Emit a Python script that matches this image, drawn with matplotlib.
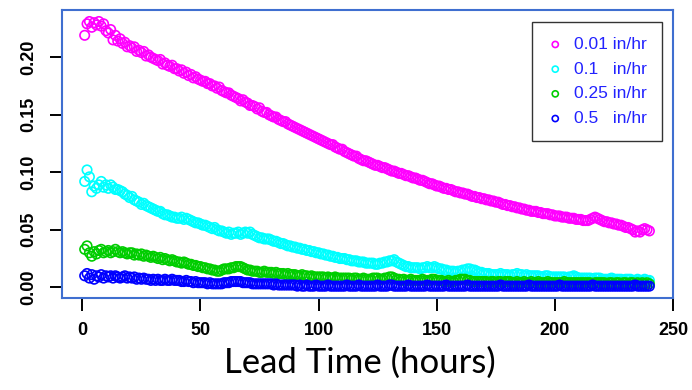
import numpy as np
import matplotlib
matplotlib.use("Agg")
import matplotlib.pyplot as plt

# lead time in hours, one point per hour
hours = np.arange(1, 241)

# exceedance fraction for each rain-rate threshold
rate_001 = [
    0.219, 0.229, 0.231, 0.226, 0.230, 0.228, 0.231, 0.227, 0.229, 0.223,
    0.221, 0.224, 0.215, 0.219, 0.214, 0.216, 0.212, 0.213, 0.209, 0.210,
    0.208, 0.209, 0.205, 0.206, 0.204, 0.205, 0.201, 0.202, 0.200, 0.199,
    0.198, 0.197, 0.198, 0.194, 0.195, 0.193, 0.192, 0.193, 0.190, 0.190,
    0.188, 0.189, 0.186, 0.187, 0.184, 0.185, 0.182, 0.183, 0.181, 0.180,
    0.179, 0.179, 0.177, 0.177, 0.175, 0.175, 0.173, 0.174, 0.171, 0.170,
    0.169, 0.169, 0.167, 0.166, 0.165, 0.164, 0.162, 0.163, 0.161, 0.160,
    0.158, 0.158, 0.157, 0.155, 0.156, 0.153, 0.152, 0.152, 0.150, 0.149,
    0.148, 0.148, 0.146, 0.145, 0.144, 0.144, 0.142, 0.141, 0.140, 0.139,
    0.138, 0.137, 0.136, 0.135, 0.134, 0.133, 0.132, 0.131, 0.130, 0.129,
    0.128, 0.127, 0.126, 0.125, 0.124, 0.124, 0.122, 0.121, 0.120, 0.120,
    0.118, 0.117, 0.116, 0.115, 0.114, 0.114, 0.112, 0.111, 0.110, 0.110,
    0.109, 0.108, 0.107, 0.106, 0.106, 0.105, 0.104, 0.104, 0.103, 0.102,
    0.101, 0.101, 0.100, 0.099, 0.099, 0.098, 0.097, 0.097, 0.096, 0.095,
    0.095, 0.094, 0.093, 0.093, 0.092, 0.091, 0.090, 0.090, 0.089, 0.088,
    0.088, 0.087, 0.086, 0.086, 0.085, 0.085, 0.084, 0.083, 0.083, 0.082,
    0.082, 0.081, 0.081, 0.080, 0.079, 0.079, 0.078, 0.078, 0.077, 0.077,
    0.076, 0.076, 0.075, 0.075, 0.074, 0.074, 0.073, 0.072, 0.072, 0.071,
    0.071, 0.070, 0.070, 0.069, 0.069, 0.068, 0.068, 0.067, 0.067, 0.066,
    0.066, 0.066, 0.065, 0.065, 0.064, 0.064, 0.064, 0.063, 0.063, 0.062,
    0.062, 0.062, 0.061, 0.061, 0.061, 0.060, 0.060, 0.060, 0.059, 0.059,
    0.059, 0.058, 0.058, 0.058, 0.059, 0.060, 0.061, 0.060, 0.059, 0.058,
    0.057, 0.057, 0.056, 0.056, 0.055, 0.055, 0.054, 0.054, 0.053, 0.052,
    0.052, 0.051, 0.050, 0.048, 0.049, 0.048, 0.050, 0.051, 0.050, 0.049,
]
rate_01 = [
    0.092, 0.102, 0.096, 0.083, 0.088, 0.086, 0.089, 0.092, 0.087, 0.089,
    0.086, 0.089, 0.087, 0.085, 0.085, 0.084, 0.083, 0.081, 0.080, 0.078,
    0.079, 0.076, 0.075, 0.074, 0.072, 0.073, 0.071, 0.070, 0.069, 0.068,
    0.067, 0.066, 0.066, 0.064, 0.063, 0.063, 0.062, 0.061, 0.061, 0.060,
    0.060, 0.061, 0.059, 0.060, 0.059, 0.058, 0.057, 0.056, 0.056, 0.055,
    0.054, 0.054, 0.053, 0.052, 0.051, 0.052, 0.050, 0.049, 0.049, 0.048,
    0.047, 0.048, 0.046, 0.047, 0.047, 0.048, 0.046, 0.047, 0.048, 0.047,
    0.048, 0.046, 0.045, 0.044, 0.043, 0.043, 0.042, 0.042, 0.042, 0.041,
    0.040, 0.040, 0.039, 0.038, 0.038, 0.037, 0.036, 0.036, 0.035, 0.035,
    0.034, 0.034, 0.033, 0.033, 0.032, 0.032, 0.031, 0.031, 0.030, 0.030,
    0.029, 0.029, 0.028, 0.028, 0.027, 0.027, 0.026, 0.026, 0.025, 0.025,
    0.025, 0.024, 0.024, 0.023, 0.023, 0.023, 0.022, 0.022, 0.022, 0.021,
    0.021, 0.021, 0.021, 0.020, 0.020, 0.021, 0.021, 0.022, 0.022, 0.023,
    0.023, 0.024, 0.022, 0.021, 0.020, 0.019, 0.018, 0.018, 0.017, 0.017,
    0.017, 0.017, 0.016, 0.017, 0.017, 0.018, 0.017, 0.017, 0.018, 0.017,
    0.016, 0.016, 0.015, 0.015, 0.014, 0.014, 0.014, 0.013, 0.014, 0.014,
    0.015, 0.015, 0.016, 0.016, 0.015, 0.015, 0.014, 0.013, 0.013, 0.012,
    0.012, 0.012, 0.011, 0.011, 0.011, 0.011, 0.012, 0.011, 0.011, 0.011,
    0.010, 0.011, 0.011, 0.012, 0.011, 0.011, 0.010, 0.011, 0.010, 0.010,
    0.010, 0.010, 0.010, 0.009, 0.009, 0.010, 0.010, 0.009, 0.009, 0.009,
    0.009, 0.009, 0.009, 0.009, 0.008, 0.009, 0.009, 0.010, 0.009, 0.008,
    0.008, 0.008, 0.008, 0.008, 0.008, 0.007, 0.008, 0.008, 0.008, 0.007,
    0.007, 0.007, 0.007, 0.008, 0.007, 0.007, 0.007, 0.007, 0.006, 0.007,
    0.007, 0.007, 0.006, 0.006, 0.007, 0.006, 0.006, 0.007, 0.006, 0.006,
]
rate_025 = [
    0.033, 0.036, 0.030, 0.027, 0.031, 0.029, 0.032, 0.033, 0.030, 0.031,
    0.032, 0.030, 0.031, 0.033, 0.031, 0.030, 0.031, 0.030, 0.029, 0.030,
    0.030, 0.028, 0.029, 0.028, 0.029, 0.027, 0.028, 0.027, 0.026, 0.027,
    0.026, 0.025, 0.026, 0.024, 0.025, 0.024, 0.023, 0.024, 0.023, 0.022,
    0.022, 0.021, 0.022, 0.021, 0.020, 0.020, 0.019, 0.019, 0.018, 0.018,
    0.017, 0.017, 0.016, 0.016, 0.015, 0.015, 0.014, 0.014, 0.015, 0.016,
    0.016, 0.016, 0.017, 0.017, 0.018, 0.018, 0.018, 0.017, 0.016, 0.015,
    0.015, 0.014, 0.014, 0.014, 0.013, 0.013, 0.014, 0.013, 0.013, 0.013,
    0.012, 0.013, 0.012, 0.012, 0.012, 0.011, 0.012, 0.011, 0.011, 0.011,
    0.010, 0.010, 0.011, 0.010, 0.010, 0.009, 0.010, 0.009, 0.009, 0.009,
    0.009, 0.009, 0.008, 0.009, 0.008, 0.008, 0.009, 0.008, 0.008, 0.008,
    0.008, 0.008, 0.008, 0.007, 0.008, 0.008, 0.007, 0.007, 0.008, 0.007,
    0.007, 0.007, 0.008, 0.008, 0.008, 0.007, 0.007, 0.008, 0.008, 0.009,
    0.009, 0.008, 0.007, 0.007, 0.006, 0.007, 0.006, 0.006, 0.007, 0.006,
    0.006, 0.006, 0.006, 0.007, 0.006, 0.006, 0.006, 0.007, 0.007, 0.006,
    0.006, 0.006, 0.005, 0.005, 0.006, 0.005, 0.005, 0.006, 0.006, 0.007,
    0.007, 0.007, 0.006, 0.006, 0.005, 0.005, 0.005, 0.005, 0.005, 0.005,
    0.005, 0.004, 0.005, 0.005, 0.004, 0.005, 0.005, 0.004, 0.005, 0.005,
    0.005, 0.004, 0.004, 0.005, 0.004, 0.004, 0.005, 0.004, 0.004, 0.005,
    0.004, 0.004, 0.005, 0.004, 0.004, 0.004, 0.005, 0.004, 0.004, 0.004,
    0.004, 0.004, 0.004, 0.005, 0.004, 0.004, 0.004, 0.004, 0.004, 0.004,
    0.004, 0.004, 0.004, 0.004, 0.004, 0.003, 0.004, 0.004, 0.004, 0.004,
    0.004, 0.003, 0.004, 0.004, 0.003, 0.004, 0.004, 0.003, 0.004, 0.004,
    0.003, 0.004, 0.004, 0.003, 0.004, 0.003, 0.004, 0.003, 0.004, 0.003,
]
rate_05 = [
    0.010, 0.012, 0.008, 0.011, 0.007, 0.010, 0.009, 0.011, 0.008, 0.010,
    0.009, 0.010, 0.008, 0.010, 0.009, 0.008, 0.009, 0.010, 0.008, 0.009,
    0.008, 0.009, 0.007, 0.008, 0.007, 0.008, 0.007, 0.007, 0.006, 0.007,
    0.006, 0.007, 0.006, 0.006, 0.007, 0.006, 0.006, 0.007, 0.006, 0.006,
    0.006, 0.005, 0.005, 0.006, 0.005, 0.005, 0.004, 0.005, 0.004, 0.004,
    0.004, 0.004, 0.003, 0.004, 0.003, 0.003, 0.003, 0.003, 0.003, 0.004,
    0.004, 0.004, 0.005, 0.005, 0.005, 0.005, 0.005, 0.004, 0.004, 0.004,
    0.004, 0.003, 0.003, 0.003, 0.003, 0.003, 0.003, 0.003, 0.003, 0.003,
    0.002, 0.003, 0.002, 0.002, 0.002, 0.002, 0.002, 0.002, 0.002, 0.002,
    0.001, 0.002, 0.001, 0.001, 0.002, 0.001, 0.001, 0.001, 0.002, 0.001,
    0.001, 0.001, 0.001, 0.002, 0.001, 0.001, 0.001, 0.001, 0.001, 0.001,
    0.001, 0.002, 0.001, 0.001, 0.001, 0.001, 0.002, 0.001, 0.001, 0.001,
    0.001, 0.001, 0.001, 0.001, 0.002, 0.001, 0.001, 0.001, 0.001, 0.002,
    0.002, 0.001, 0.001, 0.001, 0.001, 0.001, 0.001, 0.002, 0.001, 0.001,
    0.001, 0.001, 0.001, 0.001, 0.001, 0.002, 0.001, 0.001, 0.001, 0.001,
    0.001, 0.001, 0.001, 0.002, 0.001, 0.001, 0.001, 0.001, 0.001, 0.001,
    0.001, 0.001, 0.002, 0.001, 0.001, 0.001, 0.001, 0.001, 0.001, 0.001,
    0.001, 0.001, 0.001, 0.001, 0.001, 0.001, 0.002, 0.001, 0.001, 0.001,
    0.001, 0.001, 0.001, 0.001, 0.001, 0.001, 0.001, 0.001, 0.002, 0.001,
    0.001, 0.001, 0.001, 0.001, 0.001, 0.001, 0.001, 0.001, 0.001, 0.001,
    0.001, 0.002, 0.001, 0.001, 0.001, 0.001, 0.001, 0.001, 0.001, 0.001,
    0.001, 0.001, 0.001, 0.001, 0.001, 0.002, 0.001, 0.001, 0.001, 0.001,
    0.001, 0.001, 0.001, 0.001, 0.001, 0.001, 0.001, 0.001, 0.001, 0.001,
    0.001, 0.001, 0.001, 0.002, 0.001, 0.001, 0.001, 0.001, 0.001, 0.001,
]

series = [rate_001, rate_01, rate_025, rate_05]
labels = ["0.01 in/hr", "0.1   in/hr", "0.25 in/hr", "0.5   in/hr"]
colors = ["#ff00ff", "#00ffff", "#00cd00", "#0000ff"]

fig = plt.figure(figsize=(6.92, 3.9), dpi=100)
ax = fig.add_axes([62/692, 1 - 298/390, 611/692, 288/390])

for vals, lab, col in zip(series, labels, colors):
    ax.scatter(hours, vals, s=46, facecolors="none", edgecolors=col,
               linewidths=1.2, label=lab)

ax.set_xlim(-8.6, 249.6)
ax.set_ylim(-0.0093, 0.241)
ax.set_xticks([0, 50, 100, 150, 200, 250])
ax.set_yticks([0.00, 0.05, 0.10, 0.15, 0.20])
ax.set_yticklabels(["0.00", "0.05", "0.10", "0.15", "0.20"], rotation=90, va="center")

for sp in ax.spines.values():
    sp.set_color("#3f6fd0")
    sp.set_linewidth(1.5)
ax.tick_params(axis="both", colors="black", labelsize=13, length=9, width=1.4)
ax.tick_params(axis="x", pad=8)
ax.tick_params(axis="y", pad=9)
for t in ax.get_xticklabels() + ax.get_yticklabels():
    t.set_fontfamily("Liberation Sans")
    t.set_fontweight("bold")
ax.get_xticklabels()[-1].set_clip_on(False)

leg = ax.legend(loc="upper right", bbox_to_anchor=(0.982, 0.958), borderaxespad=0,
                fancybox=False, edgecolor="#333333", framealpha=1,
                prop={"family": "Liberation Sans", "size": 12.5},
                labelcolor="#2222ff", handlelength=1.0, handletextpad=0.6,
                labelspacing=0.55, borderpad=0.85, scatterpoints=1,
                markerscale=0.65)
leg.get_frame().set_linewidth(1.0)

fig.text(359.5/692, 1 - 363/390, "Lead Time (hours)", ha="center", va="center",
         fontsize=25, family="Lato")

fig.savefig("out.png", dpi=100)
